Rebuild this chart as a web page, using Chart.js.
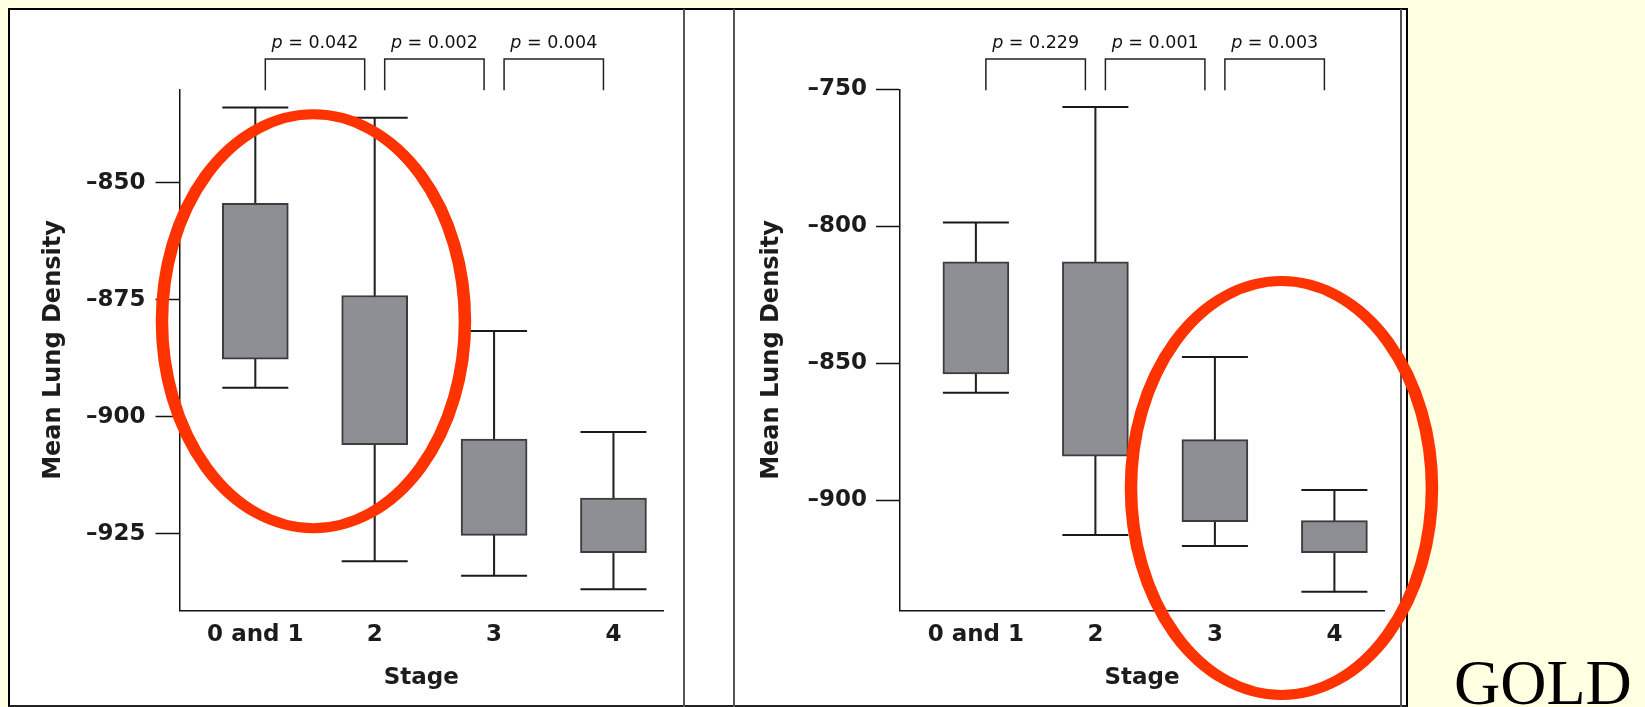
<!DOCTYPE html>
<html>
<head>
<meta charset="utf-8">
<title>Mean Lung Density by GOLD Stage</title>
<script src="https://cdn.jsdelivr.net/npm/chart.js@4/dist/chart.umd.min.js"></script>
<style>
  html, body { margin: 0; padding: 0; }
  body { width: 1645px; height: 707px; background: #FFFFE1; position: relative; overflow: hidden; }
  #frame { position: absolute; left: 8px; top: 8px; width: 1400px; height: 699px; box-sizing: border-box;
           background: #fff; border-top: 2px solid #000; border-left: 2px solid #000;
           border-right: 2px solid #000; border-bottom: 2px solid #222; z-index: 1; }
  .rule { position: absolute; top: 9px; height: 698px; width: 2px; background: #555; z-index: 1; }
  .wrap { position: absolute; top: 0; height: 707px; z-index: 2; }
  #gold { position: absolute; left: 1454px; top: 651px; font-family: "Liberation Serif", serif;
          font-size: 64px; line-height: 64px; color: #000; z-index: 3; }
</style>
</head>
<body>
<div id="frame"></div>
<div class="rule" style="left:683px"></div>
<div class="rule" style="left:733px"></div>
<div class="rule" style="left:1400px"></div>
<div class="wrap" style="left:0; width:683px"><canvas id="leftChart" width="683" height="707" style="width:683px;height:707px"></canvas></div>
<div class="wrap" style="left:700px; width:745px"><canvas id="rightChart" width="745" height="707" style="width:745px;height:707px"></canvas></div>
<div id="gold">GOLD</div>

<script>
// GOLD stages on the x axis
const stages = ['0 and 1', '2', '3', '4'];

// Left panel: box limits and whisker ends (HU)
const leftBoxTop = [-854.4, -874.1, -904.8, -917.4];
const leftBoxBottom = [-887.7, -906.0, -925.4, -929.1];
const leftWhiskerTop = [-833.9, -836.1, -881.7, -903.3];
const leftWhiskerBottom = [-893.8, -930.9, -934.0, -936.9];
const leftPValues = ['0.042', '0.002', '0.004'];
const leftTickValues = [-850, -875, -900, -925];
const leftTickLabels = ['–850', '–875', '–900', '–925'];

// Right panel: box limits and whisker ends (HU)
const rightBoxTop = [-813.0, -813.0, -877.9, -907.5];
const rightBoxBottom = [-853.9, -884.0, -907.9, -919.2];
const rightWhiskerTop = [-798.6, -756.5, -847.8, -896.3];
const rightWhiskerBottom = [-860.8, -912.8, -916.8, -933.5];
const rightPValues = ['0.229', '0.001', '0.003'];
const rightTickValues = [-750, -800, -850, -900];
const rightTickLabels = ['–750', '–800', '–850', '–900'];

const INK = '#1c1c1c';
const BOLD = (size) => ({ family: 'DejaVu Sans', size: size, weight: 'bold' });

// Brackets with p-values between neighbouring stages, plus a red highlight ring
function annotations(pValues, ring) {
  return {
    id: 'annotations',
    afterDraw(chart) {
      const ctx = chart.ctx, xs = chart.scales.x, ys = chart.scales.y;
      ctx.save();
      ctx.strokeStyle = '#222';
      ctx.lineWidth = 1.5;
      const italic = 'italic 17.5px "DejaVu Sans"';
      const plain = '17.5px "DejaVu Sans"';
      pValues.forEach((p, i) => {
        const x1 = xs.getPixelForValue(i) + 10;
        const x2 = xs.getPixelForValue(i + 1) - 10;
        const top = 59, bottom = chart.chartArea.top + 1;
        ctx.beginPath();
        ctx.moveTo(x1, bottom); ctx.lineTo(x1, top); ctx.lineTo(x2, top); ctx.lineTo(x2, bottom);
        ctx.stroke();
        const rest = ' = ' + p;
        ctx.font = italic; const wp = ctx.measureText('p').width;
        ctx.font = plain; const wr = ctx.measureText(rest).width;
        const x = (x1 + x2) / 2 - (wp + wr) / 2;
        ctx.fillStyle = '#111';
        ctx.textAlign = 'left';
        ctx.textBaseline = 'alphabetic';
        ctx.font = italic; ctx.fillText('p', x, 48);
        ctx.font = plain; ctx.fillText(rest, x + wp, 48);
      });
      // highlight ring, slightly wider stroke on the sides
      const cx = xs.getPixelForValue(ring.x), cy = ys.getPixelForValue(ring.y);
      const sx = 1.25;
      ctx.translate(cx, cy);
      ctx.scale(sx, 1);
      ctx.beginPath();
      ctx.ellipse(0, 0, ring.rx / sx, ring.ry, 0, 0, Math.PI * 2);
      ctx.strokeStyle = '#FF3300';
      ctx.lineWidth = 10;
      ctx.stroke();
      ctx.restore();
    }
  };
}

function makeChart(id, cfg) {
  const pts = (arr) => arr.map((v, i) => ({ x: i, y: v }));
  const ranges = (lo, hi) => lo.map((v, i) => ({ x: i, y: [v, hi[i]] }));
  return new Chart(document.getElementById(id), {
    type: 'bar',
    data: {
      datasets: [
        { type: 'line', label: 'upper cap', data: pts(cfg.whiskerTop), showLine: false,
          pointStyle: 'line', pointRadius: 33, pointBorderWidth: 2,
          pointBorderColor: '#1a1a1a', pointBackgroundColor: '#1a1a1a', order: 0 },
        { type: 'line', label: 'lower cap', data: pts(cfg.whiskerBottom), showLine: false,
          pointStyle: 'line', pointRadius: 33, pointBorderWidth: 2,
          pointBorderColor: '#1a1a1a', pointBackgroundColor: '#1a1a1a', order: 0 },
        { label: 'box', data: ranges(cfg.boxBottom, cfg.boxTop), grouped: false,
          barThickness: 66, backgroundColor: '#8E8F94', borderColor: '#3C3C3C',
          borderWidth: 2, borderSkipped: false, order: 1 },
        { label: 'whisker', data: ranges(cfg.whiskerBottom, cfg.whiskerTop), grouped: false,
          barThickness: 1.4, backgroundColor: '#222', borderWidth: 0, order: 2 }
      ]
    },
    options: {
      responsive: false,
      animation: false,
      events: [],
      layout: { autoPadding: false, padding: { top: 89.3, left: 0, right: cfg.padRight, bottom: 0 } },
      plugins: { legend: { display: false }, tooltip: { enabled: false } },
      scales: {
        x: {
          type: 'linear', min: -0.635, max: 3.415, offset: false,
          afterBuildTicks: (s) => { s.ticks = stages.map((_, i) => ({ value: i })); },
          afterFit: (s) => { s.height = 707 - 610.7; },
          ticks: { callback: (v, i) => stages[i], font: BOLD(23), color: INK, padding: 11,
                   autoSkip: false, maxRotation: 0 },
          grid: { display: false, drawTicks: false, offset: false },
          border: { display: true, color: '#111', width: 1.5 },
          title: { display: true, text: 'Stage', font: BOLD(23), color: INK,
                   padding: { top: 0, bottom: 15 } }
        },
        y: {
          type: 'linear', min: cfg.yMin, max: cfg.yMax,
          afterBuildTicks: (s) => { s.ticks = cfg.tickValues.map((v) => ({ value: v })); },
          afterFit: (s) => { s.width = cfg.yWidth; },
          ticks: { callback: (v, i) => cfg.tickLabels[i], font: BOLD(23), color: INK,
                   padding: cfg.tickPad, autoSkip: false },
          grid: { display: true, drawOnChartArea: false, drawTicks: true, tickLength: 24,
                  tickColor: '#111', tickWidth: 1.5 },
          border: { display: true, color: '#111', width: 1.5 },
          title: { display: true, text: 'Mean Lung Density', font: BOLD(24), color: INK,
                   padding: { top: cfg.titlePad, bottom: 0 } }
        }
      }
    },
    plugins: [annotations(cfg.pValues, cfg.ring)]
  });
}

makeChart('leftChart', {
  boxTop: leftBoxTop, boxBottom: leftBoxBottom,
  whiskerTop: leftWhiskerTop, whiskerBottom: leftWhiskerBottom,
  pValues: leftPValues, tickValues: leftTickValues, tickLabels: leftTickLabels,
  yMin: -941.5, yMax: -830, yWidth: 179.5, tickPad: 10, titlePad: 39.6, padRight: 20,
  ring: { x: 0.487, y: -879.6, rx: 151.5, ry: 207 }
});

makeChart('rightChart', {
  boxTop: rightBoxTop, boxBottom: rightBoxBottom,
  whiskerTop: rightWhiskerTop, whiskerBottom: rightWhiskerBottom,
  pValues: rightPValues, tickValues: rightTickValues, tickLabels: rightTickLabels,
  yMin: -940.4, yMax: -750, yWidth: 200, tickPad: 9, titlePad: 57.6, padRight: 61,
  ring: { x: 2.557, y: -895.6, rx: 150.5, ry: 207 }
});
</script>
</body>
</html>
